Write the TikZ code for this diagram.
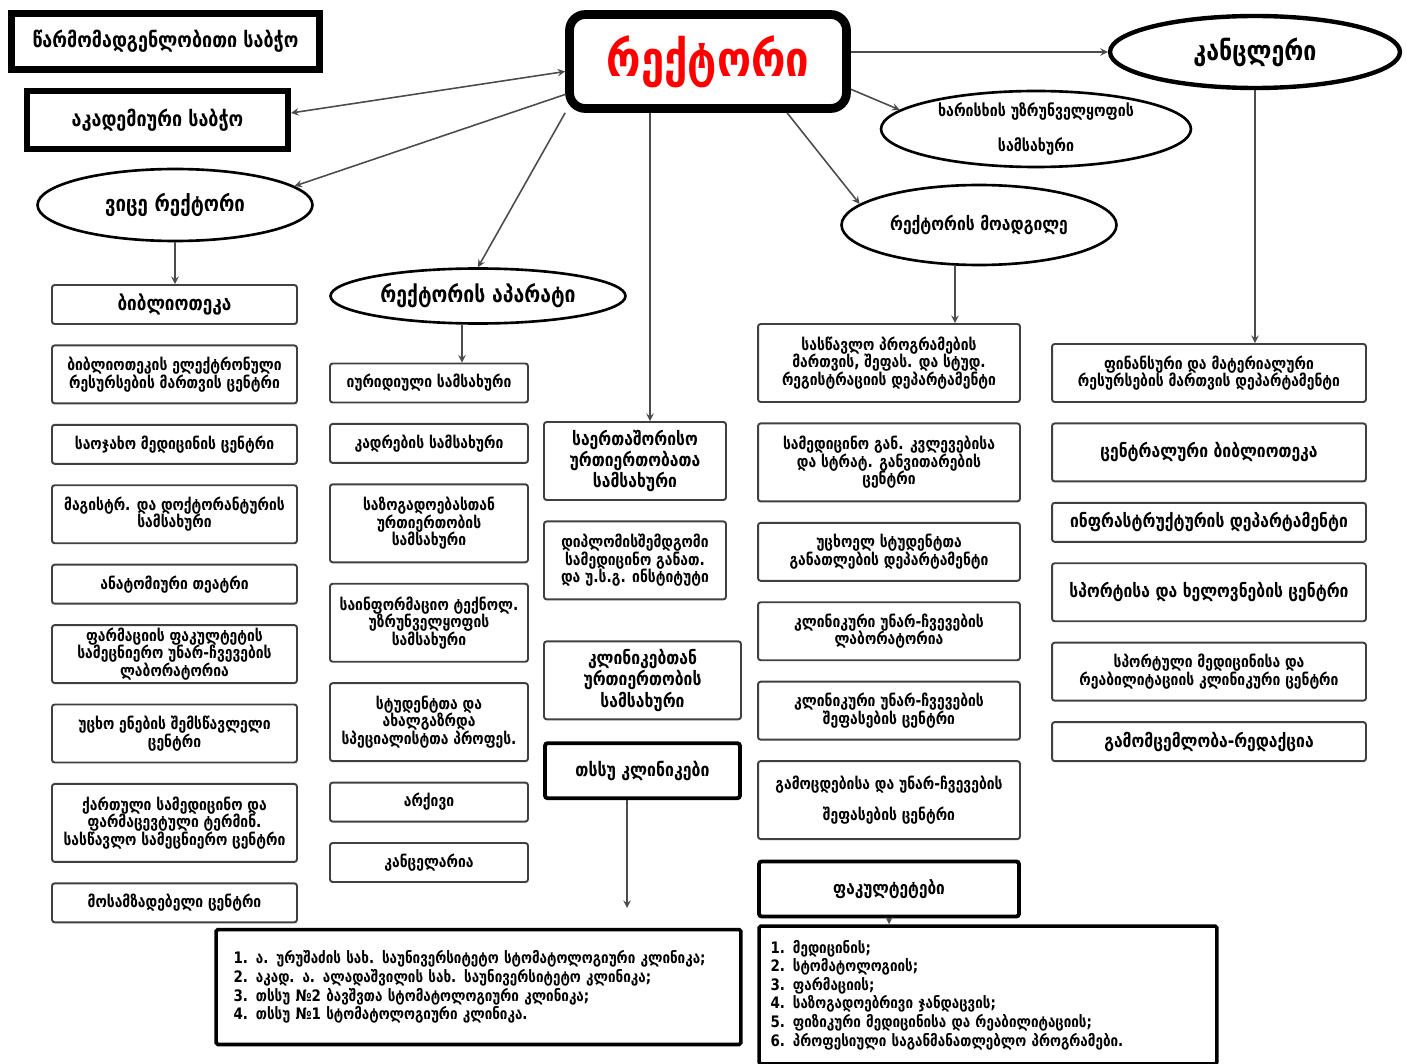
\documentclass[tikz,border=0pt]{standalone}
\usepackage{fontspec}
\newfontfamily\geo{DejaVu Sans}[FakeStretch=0.85]
\usetikzlibrary{shapes.geometric, arrows, calc, positioning}
\tikzstyle{unit} = [rectangle, rounded corners=1.5pt, draw=black!75, line width=1.1pt, fill=white, align=center, inner sep=1pt, font=\geo\bfseries\fontsize{9.3}{10}\selectfont]
\tikzstyle{boss} = [rectangle, draw=black, fill=white, align=center, font=\geo\bfseries\fontsize{12}{13}\selectfont]
\tikzstyle{oval} = [ellipse, draw=black, line width=1.5pt, fill=white, align=center, inner sep=0pt, font=\geo\bfseries\fontsize{12.5}{14}\selectfont]
\tikzstyle{arrow} = [line width=0.9pt, draw=black!70, ->, >=stealth]
\tikzstyle{hS} = [minimum height=0.78cm]
\tikzstyle{hM} = [minimum height=1.16cm]
\tikzstyle{hL} = [minimum height=1.56cm]
\tikzstyle{colA} = [unit, minimum width=4.9cm]
\tikzstyle{colB} = [unit, minimum width=3.96cm]
\tikzstyle{colC} = [unit, minimum width=3.64cm]
\tikzstyle{colD} = [unit, minimum width=5.24cm]
\tikzstyle{colE} = [unit, minimum width=6.28cm]
\tikzstyle{big} = [font=\geo\bfseries\fontsize{10.5}{11}\selectfont]
\tikzstyle{heavy} = [draw=black, line width=2.2pt, font=\geo\bfseries\fontsize{10.6}{12}\selectfont]

\begin{document}
\begin{tikzpicture}[x=0.02cm, y=-0.02cm, node distance=0.39cm]
  \useasboundingbox (0,0) rectangle (1413,1064);

  % top level
  \node (council) [boss, line width=4pt, minimum width=6.16cm, minimum height=1.12cm] at (165.5,41.5) {წარმომადგენლობითი საბჭო};
  \node (academic) [boss, line width=3.5pt, minimum width=5.22cm, minimum height=1.16cm] at (157.5,120) {აკადემიური საბჭო};
  \node (rector) [boss, line width=5pt, rounded corners=9pt, minimum width=5.54cm, minimum height=1.88cm, text=red, font=\geo\bfseries\fontsize{28}{30}\selectfont] at (708,61.5) {რექტორი};
  \node (chancellor) [oval, line width=2.5pt, minimum width=5.8cm, minimum height=1.44cm, font=\geo\bfseries\fontsize{15.5}{17}\selectfont] at (1255,52) {კანცლერი};
  \node (quality) [oval, minimum width=6.2cm, minimum height=1.52cm, font=\geo\bfseries\fontsize{9.5}{20}\selectfont] at (1036,129) {ხარისხის უზრუნველყოფის\\სამსახური};
  \node (deputy) [oval, minimum width=5.5cm, minimum height=1.6cm, font=\geo\bfseries\fontsize{10.5}{12}\selectfont] at (979,225) {რექტორის მოადგილე};
  \node (vice) [oval, minimum width=5.5cm, minimum height=1.44cm] at (175,205) {ვიცე რექტორი};
  \node (apparatus) [oval, minimum width=5.9cm, minimum height=1.1cm, font=\geo\bfseries\fontsize{13}{14}\selectfont] at (478,296) {რექტორის აპარატი};

  % vice rector column
  \node (bib) [colA, hS, font=\geo\bfseries\fontsize{11.5}{12}\selectfont] at (174.5,304.5) {ბიბლიოთეკა};
  \node (elib) [colA, hM, below=of bib] {ბიბლიოთეკის ელექტრონული\\რესურსების მართვის ცენტრი};
  \node (family) [colA, hS, below=of elib] {საოჯახო მედიცინის ცენტრი};
  \node (master) [colA, hM, below=of family] {მაგისტრ. და დოქტორანტურის\\სამსახური};
  \node (anatomy) [colA, hS, below=of master] {ანატომიური თეატრი};
  \node (pharmlab) [colA, hM, below=of anatomy] {ფარმაციის ფაკულტეტის\\სამეცნიერო უნარ-ჩვევების\\ლაბორატორია};
  \node (lang) [colA, hM, below=of pharmlab] {უცხო ენების შემსწავლელი\\ცენტრი};
  \node (term) [colA, hL, below=of lang] {ქართული სამედიცინო და\\ფარმაცევტული ტერმინ.\\სასწავლო სამეცნიერო ცენტრი};
  \node (prep) [colA, hS, below=of term] {მოსამზადებელი ცენტრი};

  % apparatus column
  \node (legal) [colB, hS] at (429,383) {იურიდიული სამსახური};
  \node (staff) [colB, hS, below=of legal] {კადრების სამსახური};
  \node (public) [colB, hL, below=of staff] {საზოგადოებასთან\\ურთიერთობის\\სამსახური};
  \node (infotech) [colB, hL, below=of public] {საინფორმაციო ტექნოლ.\\უზრუნველყოფის\\სამსახური};
  \node (youth) [colB, hL, below=of infotech] {სტუდენტთა და\\ახალგაზრდა\\სპეციალისტთა პროფეს.};
  \node (archive) [colB, hS, below=of youth] {არქივი};
  \node (office) [colB, hS, below=of archive] {კანცელარია};

  % rector column
  \node (intl) [colC, hL, font=\geo\bfseries\fontsize{10.5}{11}\selectfont] at (635,461) {საერთაშორისო\\ურთიერთობათა\\სამსახური};
  \node (dipl) [colC, hL, below=of intl] {დიპლომისშემდგომი\\სამედიცინო განათ.\\და უ.ს.გ. ინსტიტუტი};
  \node (clinrel) [unit, minimum width=3.94cm, hL, below=0.8cm of dipl.south west, anchor=north west, font=\geo\bfseries\fontsize{10.5}{11}\selectfont] {კლინიკებთან\\ურთიერთობის\\სამსახური};
  \node (clinics) [unit, heavy, minimum width=3.9cm, minimum height=1.1cm, below=0.42cm of clinrel.south west, anchor=north west] {თსსუ კლინიკები};

  % deputy column
  \node (study) [colD, hL] at (889,363) {სასწავლო პროგრამების\\მართვის, შეფას. და სტუდ.\\რეგისტრაციის დეპარტამენტი};
  \node (research) [colD, hL, below=of study] {სამედიცინო გან. კვლევებისა\\და სტრატ. განვითარების\\ცენტრი};
  \node (foreign) [colD, hM, below=of research] {უცხოელ სტუდენტთა\\განათლების დეპარტამენტი};
  \node (skilllab) [colD, hM, below=of foreign] {კლინიკური უნარ-ჩვევების\\ლაბორატორია};
  \node (skillcheck) [colD, hM, below=of skilllab] {კლინიკური უნარ-ჩვევების\\შეფასების ცენტრი};
  \node (exams) [colD, hL, font=\geo\bfseries\fontsize{9.3}{17.5}\selectfont, below=of skillcheck] {გამოცდებისა და უნარ-ჩვევების\\შეფასების ცენტრი};
  \node (faculties) [unit, heavy, minimum width=5.2cm, minimum height=1.1cm, below=of exams, font=\geo\bfseries\fontsize{10.3}{12}\selectfont] {ფაკულტეტები};

  % chancellor column
  \node (fin) [colE, hM] at (1209,373) {ფინანსური და მატერიალური\\რესურსების მართვის დეპარტამენტი};
  \node (central) [colE, hM, big, below=of fin] {ცენტრალური ბიბლიოთეკა};
  \node (infra) [colE, hS, big, below=of central] {ინფრასტრუქტურის დეპარტამენტი};
  \node (sport) [colE, hM, big, below=of infra] {სპორტისა და ხელოვნების ცენტრი};
  \node (sportmed) [colE, hM, below=of sport] {სპორტული მედიცინისა და\\რეაბილიტაციის კლინიკური ცენტრი};
  \node (press) [colE, hS, big, below=of sportmed] {გამომცემლობა-რედაქცია};

  % lists
  \node (clinlist) [unit, draw=black, line width=2pt, rounded corners=1pt, minimum width=10.5cm, minimum height=2.3cm, text width=9.8cm, align=left, font=\geo\bfseries\fontsize{9}{8.8}\selectfont] at (478.5,987) {1. ა. ურუშაძის სახ. საუნივერსიტეტო სტომატოლოგიური კლინიკა;\\2. აკად. ა. ალადაშვილის სახ. საუნივერსიტეტო კლინიკა;\\3. თსსუ №2 ბავშვთა სტომატოლოგიური კლინიკა;\\4. თსსუ №1 სტომატოლოგიური კლინიკა.};
  \node (faclist) [unit, draw=black, line width=2pt, rounded corners=1pt, minimum width=9.16cm, minimum height=2.76cm, text width=8.7cm, align=left, font=\geo\bfseries\fontsize{9}{9.3}\selectfont] at (988,995) {1. მედიცინის;\\2. სტომატოლოგიის;\\3. ფარმაციის;\\4. საზოგადოებრივი ჯანდაცვის;\\5. ფიზიკური მედიცინისა და რეაბილიტაციის;\\6. პროფესიული საგანმანათლებლო პროგრამები.};
  \coordinate (clinend) at (627,908);

  % connectors
  \draw[arrow, <->] (academic.3) -- (rector.184);
  \draw[arrow] (rector.193) -- (vice.9);
  \draw[arrow] (rector.south west) -- (apparatus.north);
  \draw[arrow] ([xshift=0.3cm]intl.north |- rector.south) -- ([xshift=0.3cm]intl.north);
  \draw[arrow] (rector.327) -- (deputy.170);
  \draw[arrow] (rector.349) -- (quality.172);
  \draw[arrow] (rector.east |- chancellor.west) -- (chancellor.west);
  \draw[arrow] (chancellor.south) -- (chancellor.south |- fin.north);
  \draw[arrow] ([xshift=-0.48cm]deputy.south) -- ([xshift=-0.48cm]deputy.south |- study.north);
  \draw[arrow] (vice.south) -- (vice.south |- bib.north);
  \draw[arrow] ([xshift=-0.32cm]apparatus.south) -- ([xshift=-0.32cm]apparatus.south |- legal.north);
  \draw[arrow] (clinics.south -| clinend) -- (clinend);
  \draw[arrow] (faculties.south) -- (faculties.south |- faclist.north);
\end{tikzpicture}
\end{document}
